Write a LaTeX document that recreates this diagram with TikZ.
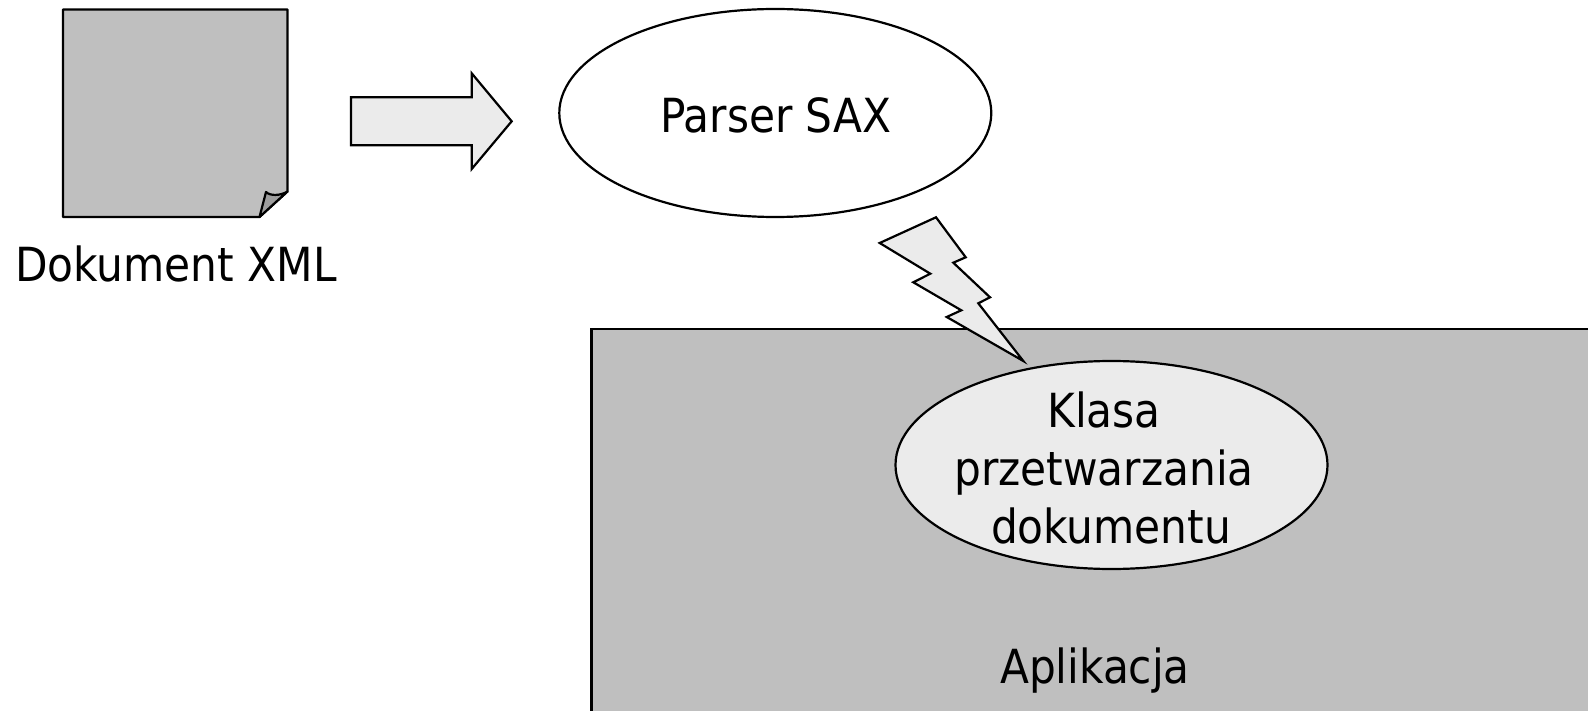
\documentclass[tikz,border=0pt]{standalone}
\usepackage{fontspec}
\setmainfont{DejaVu Sans Condensed}
\usetikzlibrary{shapes.geometric}
\definecolor{shapegray}{gray}{0.75}
\definecolor{lightgray}{gray}{0.92}
\tikzset{
  outline/.style={draw=black,line width=2.2pt,line join=miter},
  oval/.style={outline,ellipse,inner sep=0pt,minimum width=432pt,minimum height=208pt},
  label/.style={inner sep=0pt,font=\fontsize{47}{58}\selectfont,align=center}
}
\begin{document}
\begin{tikzpicture}[x=1pt,y=-1pt]
        % Frame
        \clip (0,0) rectangle (1588,711);
        % Application box
        \draw[outline,fill=shapegray] (591.5,329) rectangle (1620,740);
        % Document
        \draw[outline,fill=shapegray,line join=round] (63,9.5) -- (287.5,9.5) -- (287.5,191.5) -- (259.5,217) -- (63,217) -- cycle;
        \draw[outline,fill=shapegray!80!black!95,line join=round] (259.5,217) -- (266,192) .. controls (270,196) and (280,196) .. (287.5,191.5) -- cycle;
        \node[label] (doc) at (176,264) {Dokument XML};
        % Parser
        \node[oval] (parser) at (775.3,113) {};
        \node[label] (parsertext) at (776,115) {Parser SAX};
        \draw[outline,fill=lightgray] (351,97.3) -- (471.7,97.3) -- (471.7,73.3) -- (511.7,121.3) -- (471.7,169) -- (471.7,145.3) -- (351,145.3) -- cycle;
        % Handler
        \node[oval,fill=lightgray] (handler) at (1111.5,465) {};
        \node[label] (klasa) at (1104,410) {Klasa};
        \node[label] (przetw) at (1104,473) {przetwarzania};
        \node[label] (dok) at (1111,526) {dokumentu};
        \node[label] (app) at (1095,671) {Aplikacja};
        % Lightning
        \draw[outline,fill=lightgray] (936,217.3) -- (965.7,257.3) -- (953.3,262.7) -- (990,297.3) -- (978.3,303.3) -- (1023.3,361) -- (946.7,317) -- (961.3,310.3) -- (913.3,282.3) -- (930.3,273.7) -- (879.7,243) -- cycle;
    \end{tikzpicture}
\end{document}
